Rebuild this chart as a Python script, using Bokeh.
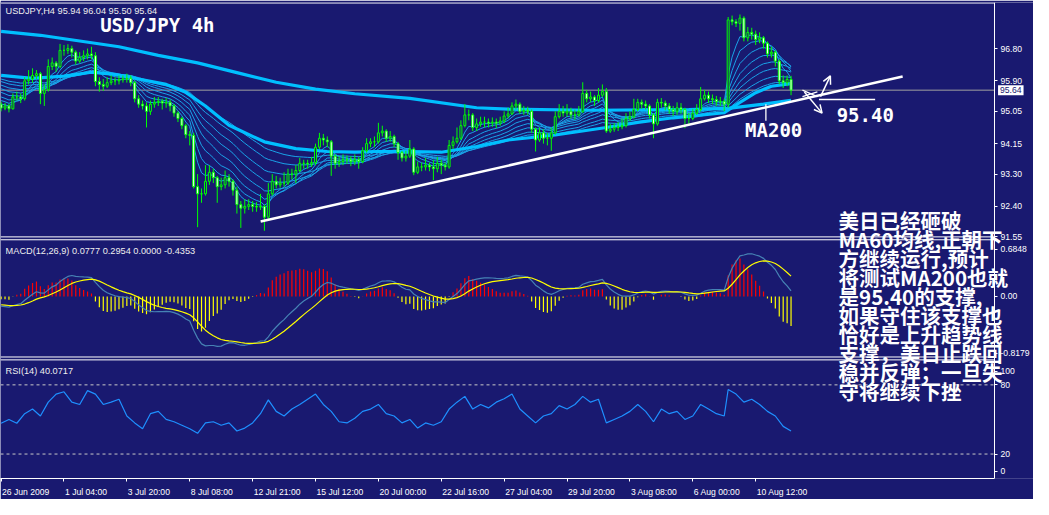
from bokeh.plotting import figure
from bokeh.models import (Range1d, FixedTicker, Span, Label, Arrow, OpenHead, ColumnDataSource,
                          BoxAnnotation)
from bokeh.embed import file_html
from bokeh.resources import INLINE

# ---------------- data ----------------
symbol_header = "USDJPY,H4  95.94 96.04 95.50 95.64"
chart_title = "USD/JPY 4h"
macd_header = "MACD(12,26,9) 0.0777 0.2954 0.0000 -0.4353"
rsi_header = "RSI(14) 40.0717"

date_ticks = [0, 16, 32, 48, 64, 80, 96, 112, 128, 144, 160, 176, 192]
date_labels = ["26 Jun 2009", "1 Jul 04:00", "3 Jul 20:00", "8 Jul 08:00", "12 Jul 21:00",
               "15 Jul 12:00", "20 Jul 00:00", "22 Jul 16:00", "27 Jul 04:00", "29 Jul 20:00",
               "3 Aug 08:00", "6 Aug 00:00", "10 Aug 12:00"]

open_first = 95.25
close = [
    95.14, 95.20, 95.12, 95.45, 95.45, 95.40, 95.90, 95.95, 96.05, 96.10,
    95.55, 95.65, 96.30, 96.40, 96.30, 96.75, 96.75, 96.80, 96.70, 96.45,
    96.55, 96.60, 96.65, 96.60, 95.88, 95.80, 95.75, 95.85, 95.90, 95.90,
    95.93, 95.95, 95.97, 95.85, 95.40, 95.25, 95.20, 95.05, 95.25, 95.30,
    95.33, 95.28, 95.30, 95.20, 95.00, 94.85, 94.65, 94.40, 94.38, 92.95,
    92.75, 92.75, 93.10, 93.35, 93.20, 92.95, 93.00, 93.20, 93.10, 92.85,
    92.45, 92.35, 92.40, 92.45, 92.40, 92.38, 92.40, 92.10, 92.75, 93.10,
    93.00, 93.05, 93.05, 93.30, 93.30, 93.40, 93.60, 93.60, 93.58, 93.62,
    94.05, 94.30, 94.25, 94.20, 93.80, 93.60, 93.65, 93.70, 93.70, 93.65,
    93.70, 93.65, 93.95, 94.15, 94.20, 94.20, 94.45, 94.50, 94.30, 94.35,
    94.15, 93.90, 93.75, 93.80, 94.00, 93.35, 93.50, 93.50, 93.55, 93.50,
    93.45, 93.60, 93.55, 93.50, 94.10, 94.20, 94.30, 94.65, 94.95, 94.95,
    94.60, 94.70, 94.75, 94.75, 94.72, 94.75, 94.72, 94.78, 94.92, 94.98,
    95.20, 95.25, 95.05, 95.08, 95.05, 94.55, 94.25, 94.45, 94.30, 94.30,
    94.45, 94.90, 95.05, 95.00, 95.05, 94.95, 94.95, 95.05, 95.55, 95.40,
    95.45, 95.35, 95.50, 95.60, 94.50, 94.55, 94.60, 94.62, 94.65, 94.85,
    94.90, 95.10, 95.30, 95.25, 95.20, 94.95, 94.70, 95.30, 95.28, 95.20,
    95.10, 95.05, 95.15, 95.10, 94.85, 94.85, 95.00, 95.10, 95.40, 95.50,
    95.40, 95.38, 95.32, 95.33, 95.25, 97.60, 97.55, 97.50, 97.65, 97.10,
    97.25, 97.20, 97.05, 97.10, 96.95, 96.65, 96.70, 96.45, 95.90, 95.85,
    95.94, 95.64]
high = [
    95.32, 95.28, 95.26, 95.55, 95.60, 95.55, 96.00, 96.20, 96.25, 96.20,
    96.15, 95.80, 96.50, 96.55, 96.45, 96.93, 96.90, 96.92, 96.88, 96.75,
    96.70, 96.75, 96.80, 96.85, 96.70, 96.00, 95.95, 96.00, 96.05, 96.00,
    96.05, 96.05, 96.10, 96.05, 95.90, 95.50, 95.35, 95.30, 95.35, 95.45,
    95.45, 95.40, 95.42, 95.38, 95.25, 95.05, 94.90, 94.70, 94.50, 94.45,
    93.30, 92.90, 93.55, 93.55, 93.45, 93.25, 93.20, 93.40, 93.30, 93.15,
    92.95, 92.55, 92.60, 92.60, 92.55, 92.52, 92.75, 92.45, 93.05, 93.30,
    93.25, 93.20, 93.35, 93.45, 93.45, 93.55, 93.75, 93.70, 93.70, 93.78,
    94.15, 94.45, 94.42, 94.35, 94.25, 93.85, 93.80, 93.85, 93.82, 93.80,
    93.85, 93.78, 94.05, 94.30, 94.30, 94.35, 94.73, 94.65, 94.55, 94.50,
    94.40, 94.20, 93.95, 93.95, 94.25, 94.05, 93.65, 93.62, 93.75, 93.62,
    93.70, 93.78, 93.70, 93.62, 94.25, 94.35, 94.60, 94.80, 95.25, 95.10,
    95.00, 94.85, 94.90, 94.90, 94.85, 94.88, 94.85, 94.90, 95.05, 95.15,
    95.30, 95.38, 95.30, 95.20, 95.18, 95.10, 94.60, 94.60, 94.55, 94.45,
    94.60, 95.05, 95.25, 95.20, 95.25, 95.15, 95.10, 95.20, 95.86, 95.65,
    95.60, 95.50, 95.70, 95.80, 95.70, 94.70, 94.72, 94.75, 94.85, 95.00,
    95.05, 95.40, 95.40, 95.38, 95.35, 95.25, 95.00, 95.40, 95.42, 95.35,
    95.28, 95.20, 95.30, 95.28, 95.15, 95.00, 95.12, 95.25, 95.73, 95.65,
    95.60, 95.52, 95.48, 95.45, 95.40, 97.68, 97.72, 97.62, 97.75, 97.70,
    97.40, 97.38, 97.30, 97.25, 97.15, 97.00, 96.85, 96.75, 96.50, 96.05,
    96.05, 96.04]
low = [
    95.05, 95.08, 95.02, 95.10, 95.35, 95.28, 95.35, 95.80, 95.85, 95.95,
    95.25, 95.20, 95.60, 96.20, 96.15, 96.25, 96.60, 96.65, 96.55, 96.35,
    96.40, 96.45, 96.50, 96.50, 95.75, 95.60, 95.62, 95.70, 95.78, 95.78,
    95.80, 95.85, 95.85, 95.75, 95.30, 95.15, 95.10, 94.60, 94.95, 95.15,
    95.20, 95.10, 95.15, 95.05, 94.90, 94.75, 94.55, 94.30, 94.10, 92.90,
    91.82, 92.50, 92.70, 93.00, 93.05, 92.50, 92.85, 92.90, 92.95, 92.70,
    92.20, 91.80, 92.20, 92.30, 92.25, 92.25, 92.30, 91.72, 92.05, 92.70,
    92.90, 92.92, 92.95, 93.00, 93.15, 93.05, 93.35, 93.45, 93.45, 93.50,
    93.55, 94.00, 94.10, 94.05, 93.25, 93.45, 93.50, 93.55, 93.58, 93.52,
    93.55, 93.45, 93.60, 93.90, 94.05, 94.05, 94.15, 94.35, 94.20, 94.20,
    94.05, 93.70, 93.65, 93.65, 93.75, 93.27, 93.30, 93.38, 93.40, 93.38,
    93.13, 93.35, 93.30, 93.40, 93.45, 94.00, 94.15, 94.25, 94.60, 94.80,
    94.50, 94.50, 94.62, 94.60, 94.60, 94.62, 94.58, 94.65, 94.72, 94.85,
    94.95, 95.10, 94.98, 94.95, 94.95, 94.45, 93.93, 94.20, 94.15, 94.10,
    93.95, 94.40, 94.85, 94.90, 94.90, 94.85, 94.82, 94.90, 95.00, 95.30,
    95.30, 95.20, 95.30, 95.45, 94.45, 94.45, 94.48, 94.50, 94.55, 94.60,
    94.78, 94.85, 95.05, 95.12, 95.10, 94.85, 94.30, 94.65, 95.15, 95.08,
    94.98, 94.92, 94.95, 94.98, 94.58, 94.70, 94.80, 94.95, 95.05, 95.35,
    95.28, 95.25, 95.20, 95.20, 95.05, 95.15, 97.45, 97.40, 97.30, 97.00,
    97.00, 97.05, 96.90, 96.95, 96.80, 96.55, 96.55, 96.30, 95.80, 95.70,
    95.75, 95.50]

# thick moving averages, read at sample bars
ma60_bar = [0, 8, 16, 23, 29, 35, 42, 47, 52, 58, 67, 75, 83, 90, 96, 104, 112, 121,
            129, 141, 154, 162, 171, 184, 188, 192, 196, 201]
ma60_val = [96.05, 95.97, 96.03, 96.14, 96.08, 95.95, 95.80, 95.58, 95.20, 94.66, 94.20,
            94.01, 93.93, 93.91, 93.93, 93.93, 93.91, 94.07, 94.25, 94.39, 94.60, 94.74,
            94.87, 95.01, 95.30, 95.57, 95.75, 95.82]
ma200_bar = [0, 10, 20, 30, 40, 50, 60, 70, 80, 90, 104, 121, 129, 150, 175, 185, 194, 201]
ma200_val = [97.28, 97.17, 97.01, 96.85, 96.61, 96.40, 96.13, 95.86, 95.67, 95.54, 95.41,
             95.15, 95.11, 95.08, 95.10, 95.13, 95.25, 95.36]

# thin EMA fan: periods and values read at the first bar
fan_periods = [5, 8, 12, 17, 23, 30, 40, 50]
fan_start = [95.25, 95.35, 95.45, 95.58, 95.68, 95.78, 95.88, 95.95]

# MACD(12,26,9): starting states
macd_fast, macd_slow, macd_signal_len = 12, 26, 9
macd_fast_start, macd_slow_start, macd_signal_start = 95.40, 95.54, -0.12

# RSI(14) line
rsi_bar = [0, 2, 4, 6, 8, 10, 12, 14, 16, 18, 20, 22, 24, 26, 28, 30, 32, 34, 36, 38,
           40, 42, 44, 46, 48, 50, 52, 54, 56, 58, 60, 62, 64, 66, 68, 70, 72, 74, 76, 78,
           80, 82, 84, 86, 88, 90, 92, 94, 96, 98, 100, 102, 104, 106, 108, 110, 112, 114,
           116, 118, 120, 122, 124, 126, 128, 130, 132, 134, 136, 138, 140, 142, 144, 146,
           148, 150, 152, 154, 156, 158, 160, 162, 164, 166, 168, 170, 172, 174, 176, 178,
           180, 182, 184, 185, 187, 189, 191, 193, 195, 197, 199, 201]
rsi_val = [46.7, 50, 46.7, 55, 59, 53, 65, 72, 74, 65,
           63, 75, 72, 63, 65, 67.5, 53, 47, 42, 55,
           57, 50, 48, 45, 42, 38, 47, 48, 45, 47,
           40, 42.5, 47, 55, 67, 57, 53, 59, 63, 67.5,
           72, 63, 57, 48, 47, 51, 57, 59, 63, 55,
           53, 47, 50, 42.5, 47, 45, 48, 59, 65, 70,
           59, 63, 60, 65, 68, 72, 59, 53, 47, 53,
           55, 62, 59, 63, 70, 65, 67.5, 47, 50, 53,
           57, 63, 57, 48, 59, 55, 57, 50, 53, 63,
           59, 55, 53, 76, 72, 65, 67.5, 63, 57, 53,
           44, 40.07]

price_ticks = [91.55, 92.40, 93.30, 94.15, 95.05, 95.90, 96.80]
macd_ticks = [0.6848, 0.0, -0.8179]
macd_tick_labels = ["0.6848", "0.00", "-0.8179"]
rsi_tick_at = [91.7, 80, 20, 5]          # where MetaTrader prints the scale labels
rsi_tick_labels = ["100", "80", "20", "0"]
rsi_levels = [20, 80]
last_price = 95.64

trend_bar = [66.05, 229.4]
trend_price = [91.98, 96.02]

note_lines = ["美日已经砸破", "MA60均线,正朝下", "方继续运行,预计", "将测试MA200也就",
              "是95.40的支撑,", "如果守住该支撑也", "恰好是上升趋势线", "支撑，美日止跌回",
              "稳并反弹；一旦失", "守将继续下挫"]

# ---------------- derived series ----------------
n = len(close)
xs = list(range(n))
opens = [open_first] + close[:-1]


def ema_path(start, period, series):
    a = 2.0 / (period + 1)
    out = [start]
    for c in series[1:]:
        out.append(out[-1] + a * (c - out[-1]))
    return out


fan = [ema_path(s, p, close) for p, s in zip(fan_periods, fan_start)]
e_fast = ema_path(macd_fast_start, macd_fast, close)
e_slow = ema_path(macd_slow_start, macd_slow, close)
macd = [a - b for a, b in zip(e_fast, e_slow)]
signal = ema_path(macd_signal_start, macd_signal_len, macd)
hist = [2 * (m - s) for m, s in zip(macd, signal)]

# ---------------- layout geometry ----------------
BG = "#191970"
GREEN = "#00FF00"
MA_COL = "#00BFFF"
FAN_COL = "#1AA3E8"
CANVAS_W, CANVAS_H = 1033, 499
REF_W, REF_H = 1049, 515
SX, SY = CANVAS_W / REF_W, CANVAS_H / REF_H
B_TOP, B_BOTTOM = 2, 17
REF_TOP = B_TOP / SY
REF_BOTTOM = (CANVAS_H - B_BOTTOM) / SY
BAR_PX = 3.991            # reference pixels per 4-hour bar
X0 = -0.15
X_END = X0 + REF_W / BAR_PX
X_AXIS = X0 + 1009.4 / BAR_PX
PX_PER_BAR = CANVAS_W / (X_END - X0)

PRICE_SCALE = (50.0, 96.80, 37.33)   # reference row of an anchor value, value, px per unit
MACD_SCALE = (308.0, 0.0, 72.0)
RSI_SCALE = (496.0, 0.0, 1.2)
AX_FONT = "Liberation Sans"
AX_SIZE = 8.6


def yrange(s):
    y0, v0, k = s
    return Range1d(v0 - (REF_BOTTOM - y0) / k, v0 + (y0 - REF_TOP) / k)


def row_to_price(row):
    py0, pv0, pk = PRICE_SCALE
    return pv0 - (row - py0) / pk


def to_price(s, v):
    y0, v0, k = s
    return row_to_price(y0 - (v - v0) * k)


CHAR_EM = {" ": 0.278, ":": 0.278, "J": 0.5, "l": 0.222, "A": 0.667}


def text_px(s):
    return sum(CHAR_EM.get(ch, 0.556) for ch in s) * AX_SIZE


p = figure(width=CANVAS_W, height=CANVAS_H, output_backend="svg", toolbar_location=None,
           x_range=Range1d(X0, X_END), y_range=yrange(PRICE_SCALE),
           y_axis_location="right", min_border_left=0, min_border_right=0,
           min_border_top=B_TOP, min_border_bottom=B_BOTTOM,
           background_fill_color=BG, border_fill_color=BG, outline_line_color=None)
p.extra_y_ranges = {"macd": yrange(MACD_SCALE), "rsi": yrange(RSI_SCALE)}
p.xgrid.visible = False
p.ygrid.visible = False

# reference lines (underlay): panel borders, last price, RSI levels
for row in [2.6, 246, 249, 371, 374]:
    p.add_layout(Span(location=row_to_price(row), dimension="width", line_color="white",
                      line_width=1, level="underlay"))
p.add_layout(Span(location=last_price, dimension="width", line_color="#A0A0A0", line_width=1,
                  level="underlay"))
for lv in rsi_levels:
    p.add_layout(Span(location=lv, dimension="width", y_range_name="rsi", line_color="#C8C8C8",
                      line_width=1, line_dash="3 3", level="underlay"))
# price-scale strip right of the chart area
p.add_layout(BoxAnnotation(left=X_AXIS, fill_color=BG, fill_alpha=1.0, line_color=None,
                           level="underlay"))

# moving averages
for f in fan:
    p.line(xs, f, line_color=FAN_COL, line_width=1)
p.line(ma200_bar, ma200_val, line_color=MA_COL, line_width=3.2)
p.line(ma60_bar, ma60_val, line_color=MA_COL, line_width=3.2)

# candles
src = ColumnDataSource(dict(
    x=xs, h=high, l=low,
    top=[max(o, c) for o, c in zip(opens, close)],
    bot=[min(o, c) for o, c in zip(opens, close)],
    fill=[BG if c >= o else "white" for o, c in zip(opens, close)]))
p.segment(x0="x", y0="l", x1="x", y1="h", source=src, line_color=GREEN, line_width=1)
p.vbar(x="x", width=0.5, top="top", bottom="bot", source=src, fill_color="fill",
       line_color=GREEN, line_width=1)

# trend line and drawn marks
p.line(trend_bar, trend_price, line_color="white", line_width=2.5)
p.segment(x0=[194.6, 208.1, 203.9, 203.9], y0=[95.246, 95.38, 95.64, 95.46],
          x1=[194.6, 222.4, 207.7, 207.7], y1=[94.79, 95.38, 95.46, 95.59],
          line_color="white", line_width=1.3)
p.add_layout(Arrow(x_start=208.5, y_start=95.46, x_end=211.0, y_end=96.04, line_color="white",
                   line_width=1.5, end=OpenHead(size=8, line_color="white", line_width=1.5)))
p.add_layout(Arrow(x_start=204.4, y_start=95.59, x_end=208.9, y_end=95.00, line_color="white",
                   line_width=1.5, end=OpenHead(size=8, line_color="white", line_width=1.5)))

# MACD panel
hsrc = ColumnDataSource(dict(x=xs, h=hist, z=[0.0] * n,
                             c=["#FF0000" if v > 0 else "#FFFF00" for v in hist]))
p.segment(x0="x", y0="z", x1="x", y1="h", source=hsrc, line_color="c", line_width=1.2,
          y_range_name="macd")
p.line(xs, macd, line_color="#4682B4", line_width=1.2, y_range_name="macd")
p.line(xs, signal, line_color="#FFFF00", line_width=1.2, y_range_name="macd")

# RSI panel
p.line(rsi_bar, rsi_val, line_color="#1E90FF", line_width=1.2, y_range_name="rsi")

# price scale (one axis carrying the three panels' labels)
yax = p.yaxis[0]
yax.fixed_location = X_AXIS
ticks = list(price_ticks)
over = {t: f"{t:.2f}" for t in price_ticks}
for v, lab in zip(macd_ticks, macd_tick_labels):
    t = to_price(MACD_SCALE, v)
    ticks.append(t)
    over[t] = lab
for v, lab in zip(rsi_tick_at, rsi_tick_labels):
    t = to_price(RSI_SCALE, v)
    ticks.append(t)
    over[t] = lab
yax.ticker = FixedTicker(ticks=ticks)
yax.major_label_overrides = over

# date labels start at their tick (MetaTrader style)
xax = p.xaxis[0]
xax.bounds = (X0, X_AXIS)
centres = [t + (text_px(s) / 2 + 1) / PX_PER_BAR for t, s in zip(date_ticks, date_labels)]
xax.ticker = FixedTicker(ticks=centres, minor_ticks=date_ticks)
xax.major_label_overrides = {c: s for c, s in zip(centres, date_labels)}
for ax in (xax, yax):
    ax.axis_line_color = "white"
    ax.major_tick_line_color = "white"
    ax.minor_tick_line_color = None
    ax.major_tick_in = 0
    ax.major_tick_out = 3
    ax.major_label_text_color = "white"
    ax.major_label_text_font = AX_FONT
    ax.major_label_text_font_size = f"{AX_SIZE}px"
    ax.major_label_standoff = 3
xax.major_tick_line_color = None
xax.minor_tick_line_color = "white"
xax.minor_tick_in = 0
xax.minor_tick_out = 3
xax.major_label_standoff = 5

# current-price box on the price scale
p.add_layout(Label(x=X0 + 1013 / BAR_PX, y=last_price, text=f"{last_price:.2f}", text_color=BG,
                   text_font=AX_FONT, text_font_size=f"{AX_SIZE}px", text_baseline="middle",
                   background_fill_color="white", padding=2))

# headers and notes
HDR = dict(text_font=AX_FONT, text_font_size="9.2px", text_color="#EEEEEE", text_baseline="middle")
p.add_layout(Label(x=1.15, y=97.845, text=symbol_header, **HDR))
p.add_layout(Label(x=1.15, y=0.653, y_range_name="macd", text=macd_header, **HDR))
p.add_layout(Label(x=1.15, y=91.7, y_range_name="rsi", text=rsi_header, **HDR))

MONO = dict(text_font="DejaVu Sans Mono", text_font_style="bold", text_color="white",
            text_font_size="19px", text_baseline="middle")
p.add_layout(Label(x=25.2, y=97.443, text=chart_title, **MONO))
p.add_layout(Label(x=189.3, y=94.536, text="MA200", **MONO))
p.add_layout(Label(x=212.6, y=94.938, text="95.40", **MONO))

NOTE_X, NOTE_Y0, NOTE_STEP = 213.1, 92.018, 0.5304
for k, line in enumerate(note_lines):
    p.add_layout(Label(x=NOTE_X, y=NOTE_Y0 - k * NOTE_STEP, text=line, text_color="white",
                       text_font="Noto Sans CJK SC", text_font_style="bold",
                       text_font_size="20.5px", text_baseline="middle"))

open("out.html", "w").write(file_html(p, INLINE))
